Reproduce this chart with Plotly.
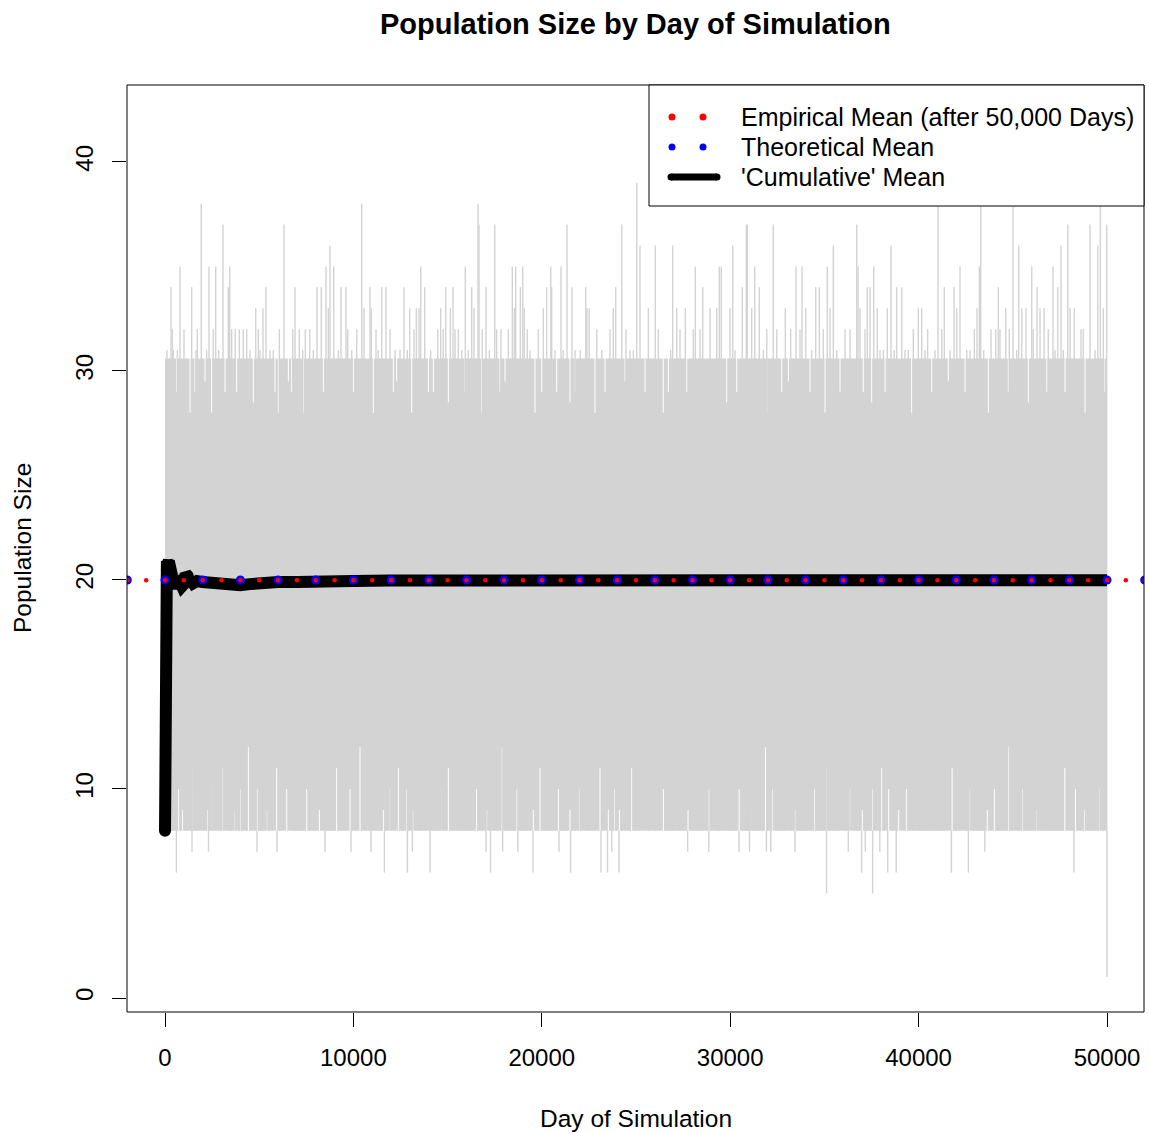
import numpy as np
import plotly.graph_objects as go

# ---------------- data ----------------
days_total = 50000
core_low = 8        # dense grey band lower edge
core_high = 30.6    # dense grey band upper edge (estimated)

high_spike_days = [318, 796, 1417, 1927, 2335, 2691, 3079, 3360, 3434, 4814, 5202, 5361, 6316, 6900,
                   8068, 8297, 8546, 8758, 8955, 9342, 9607, 10441, 10881, 11502, 11730, 12686, 12989,
                   13573, 13785, 14634, 14900, 15287, 15940, 16280, 16614, 16667, 17039, 17501, 18435,
                   18616, 18860, 18987, 20080, 20260, 20473, 20526, 21020, 21338, 21604, 22331, 22915,
                   23924, 24242, 25038, 25213, 26025, 26949, 28148, 28541, 29422, 29528, 30134, 30643,
                   30856, 30909, 31301, 31545, 32288, 33494, 33812, 34539, 34731, 35155, 35474, 36716,
                   36785, 37278, 37421, 37617, 37808, 38339, 38535, 38838, 39103, 39985, 40165, 41031,
                   41365, 41881, 42199, 43224, 43298, 44232, 45012, 45315, 46005, 46287, 47136, 47386,
                   47561, 47917, 49099, 49508, 49646, 49986]
high_spike_vals = [34, 35, 34, 38, 35, 35, 37, 34, 35, 33, 33, 34, 37, 34,
                   34, 34, 35, 36, 35, 34, 34, 38, 34, 34, 34, 34, 33,
                   35, 34, 33, 34, 34, 35, 34, 38, 37, 34, 37, 35,
                   35, 34, 35, 33, 34, 35, 34, 35, 37, 34, 34, 32,
                   34, 37, 39, 36, 36, 36, 35, 34, 35, 35, 36, 34,
                   37, 37, 35, 34, 37, 35, 35, 34, 34, 35, 36, 37,
                   35, 34, 34, 35, 33, 33, 36, 34, 34, 33, 33, 38,
                   34, 34, 35, 35, 38, 34, 38, 36, 35, 34, 35, 34,
                   36, 37, 37, 36, 38, 37]

mid_spike_days = [100, 390, 440, 655, 1010, 1645, 1715, 2210, 2565, 2850, 3540, 3730, 3945, 4155,
                  4335, 4510, 4955, 5040, 5575, 5750, 6070, 6780, 7130, 7310, 7450, 7680, 7870,
                  8670, 9200, 9700, 9910, 10175, 10565, 10950, 11200, 11320, 11945, 12210,
                  12475, 12860, 13215, 13340, 13480, 14100, 14475, 14770, 15145, 15395, 15570,
                  15750, 16100, 16400, 16840, 17215, 17605, 17830, 18225, 18540, 19070, 19230,
                  19375, 19815, 20700, 21140, 21765, 22045, 22400, 22520, 23180, 23620, 23795,
                  24470, 24680, 24860, 25655, 26185, 26840, 27160, 27335, 27620, 28040, 28400,
                  28930, 29285, 29990, 30255, 31140, 31760, 31940, 32470, 32925, 33210, 33705,
                  34010, 34325, 34945, 35300, 35655, 36095, 36360, 36890, 37155, 37950, 38130,
                  38710, 39280, 39455, 39720, 40340, 40480, 40870, 41230, 41670, 42025, 42555,
                  42730, 42960, 43100, 43455, 43845, 44095, 44320, 44625, 44815, 45210, 45475,
                  45700, 46090, 46445, 46660, 46885, 47240, 47680, 48040, 48265, 48620, 48745,
                  49365, 49805]
mid_spike_vals = [31, 32, 31, 31, 32, 31, 32, 31, 32, 31, 32, 32, 32, 32,
                  32, 31, 32, 31, 31, 31, 32, 32, 32, 31, 32, 32, 31,
                  33, 31, 32, 31, 32, 33, 33, 32, 31, 32, 31,
                  31, 31, 32, 33, 33, 31, 32, 32, 33, 32, 32,
                  31, 31, 33, 32, 31, 32, 32, 32, 33, 33, 32,
                  31, 32, 31, 31, 31, 31, 33, 33, 31, 32, 33,
                  32, 31, 31, 33, 32, 31, 33, 32, 33, 32, 32,
                  33, 33, 33, 31, 33, 31, 32, 32, 33, 32, 32,
                  33, 31, 32, 33, 31, 32, 32, 33, 32, 31, 31,
                  31, 31, 31, 32, 31, 32, 31, 32, 31, 33, 31,
                  31, 32, 33, 31, 32, 32, 32, 33, 32, 31, 33,
                  33, 32, 33, 33, 32, 31, 31, 33, 33, 32, 32,
                  31, 33]

low_spike_days = [605, 1433, 2309, 4883, 5945, 8493, 9873, 10935, 11646, 12867, 13127, 14066, 17039,
                  17278, 17920, 18727, 19534, 20914, 21530, 23143, 23488, 23716, 24099, 27740, 28865,
                  30468, 31025, 31922, 32150, 33440, 35112, 36269, 36975, 37172, 37560, 37942, 38361,
                  38812, 41742, 42644, 43515, 48245, 50000]
low_spike_vals = [6, 7, 7, 7, 7, 7, 7, 7, 6, 6, 7, 6, 7,
                  6, 7, 7, 6, 7, 6, 6, 6, 7, 6, 7, 7,
                  7, 7, 7, 7, 7, 5, 7, 6, 7, 5, 7, 6,
                  6, 6, 6, 7, 6, 1]

# columns whose lowest value stays above 8 (white slits at the bottom of the band)
low_gap_days = [708, 938, 1415, 1716, 2247, 2566, 3061, 3716, 3981, 4423, 4901, 5397, 5928, 6459,
                7521, 8193, 9112, 9820, 10351, 11589, 11943, 12386, 12829, 13183, 14634, 15041,
                16543, 17074, 17871, 18668, 19552, 19905, 20878, 21497, 22028, 23090, 23532,
                23838, 24120, 24773, 26455, 27761, 28886, 29540, 30474, 31126, 31874, 32247,
                33462, 34492, 35145, 36360, 37013, 37576, 38043, 38413, 38940, 39348, 41779,
                42713, 43647, 44025, 44772, 45517, 46264, 47761, 48323, 48791, 49630]
low_gap_vals = [10, 9, 11, 10, 9, 10, 11, 9, 10, 12, 10, 9, 11, 10,
                10, 9, 11, 10, 12, 9, 10, 11, 10, 9, 10, 11,
                10, 9, 12, 10, 9, 11, 10, 9, 10, 11, 9,
                10, 9, 11, 10, 9, 10, 11, 10, 9, 12, 10,
                9, 10, 11, 10, 9, 10, 11, 10, 9, 10, 11,
                10, 9, 10, 12, 10, 9, 11, 10, 9, 10]

# columns whose highest value stays below the band top (white slits at the top of the band)
top_gap_days = [620, 1327, 1592, 2123, 2477, 3185, 3804, 4689, 5839, 6016, 6548, 6725, 7342, 8404,
                9996, 11058, 12120, 12297, 13094, 13978, 14244, 15041, 15924, 16809, 17782, 18047,
                19640, 19995, 20791, 21497, 21763, 22824, 23355, 24417, 25478, 26450, 26716,
                27691, 29815, 30346, 31940, 32735, 33090, 34236, 35033, 35829, 37066, 37510,
                38218, 39633, 40696, 41578, 42464, 43700, 44762, 45824, 46802, 47772, 48834, 49843]
top_gap_vals = [29, 28, 29, 29.5, 28, 29, 29, 28.5, 29, 28, 29.5, 29, 28, 29,
                29, 28, 29, 29.5, 28, 29, 29, 28.5, 29, 28, 29, 29.5,
                28, 29, 29, 28.5, 29, 28, 29, 29.5, 29, 28, 29,
                29, 28.5, 29, 28, 29, 29.5, 29, 28, 29, 29, 28.5,
                29, 28, 29, 29.5, 29, 28, 29, 28.5, 29, 29, 28, 29]

cum_days = [1, 2, 3, 5, 8, 12, 20, 35, 60, 100, 150, 200, 250, 300, 350, 400, 450, 500, 550, 600,
            650, 700, 750, 800, 900, 1000, 1100, 1200, 1300, 1400, 1500, 1700, 2000, 2500, 3000,
            3500, 4000, 4500, 5000, 6000, 7000, 8000, 10000, 12000, 15000, 20000, 25000, 30000,
            35000, 40000, 45000, 50000]
cum_vals = [8.0, 11.5, 13.0, 15.0, 16.5, 18.0, 19.5, 20.5, 20.9, 20.9, 20.8, 20.9, 20.6, 20.7,
            20.3, 20.5, 19.9, 20.2, 19.7, 20.0, 19.6, 19.9, 19.6, 19.9, 19.7, 19.8, 20.3, 20.2,
            19.8, 20.0, 19.85, 19.95, 19.9, 19.85, 19.8, 19.75, 19.75, 19.8, 19.85, 19.9, 19.9,
            19.95, 19.95, 19.97, 19.98, 19.98, 19.99, 19.99, 19.99, 20.0, 20.0, 19.99]

empirical_mean = 19.99
theoretical_mean = 20.0

x_ticks = [0, 10000, 20000, 30000, 40000, 50000]
y_ticks = [0, 10, 20, 30, 40]
legend_labels = ["Empirical Mean (after 50,000 Days)", "Theoretical Mean", "'Cumulative' Mean"]

# ---------------- figure ----------------
FONT = "Liberation Sans, Arial, Helvetica, sans-serif"
GREY = "#D3D3D3"
W, H = 1149, 1133
L, R, T, B = 127, 5, 85, 121
x_range = [-2017, 51964]
y_range = [-0.67, 43.68]

def vsegs(days, vals, base):
    xs, ys = [], []
    for d, v in zip(days, vals):
        xs += [d, d, None]
        ys += [base, v, None]
    return xs, ys

fig = go.Figure()

# dense core of the daily series
fig.add_trace(go.Scatter(x=[1, days_total, days_total, 1, 1],
                         y=[core_low, core_low, core_high, core_high, core_low],
                         fill="toself", fillcolor=GREY, mode="lines",
                         line=dict(width=0, color=GREY), hoverinfo="skip", showlegend=False))
# white slits inside the band
for days, vals, base in [(low_gap_days, low_gap_vals, core_low - 0.05),
                         (top_gap_days, top_gap_vals, core_high + 0.05)]:
    xs, ys = vsegs(days, vals, base)
    fig.add_trace(go.Scatter(x=xs, y=ys, mode="lines", line=dict(color="white", width=1),
                             hoverinfo="skip", showlegend=False))
# individual excursions
for days, vals in [(mid_spike_days, mid_spike_vals), (high_spike_days, high_spike_vals),
                   (low_spike_days, low_spike_vals)]:
    xs, ys = vsegs(days, vals, core_low)
    fig.add_trace(go.Scatter(x=xs, y=ys, mode="lines", line=dict(color=GREY, width=1.4),
                             hoverinfo="skip", showlegend=False))

# cumulative mean
fig.add_trace(go.Scatter(x=cum_days, y=cum_vals, mode="lines",
                         line=dict(color="black", width=12), showlegend=False))
fig.add_trace(go.Scatter(x=[cum_days[0]], y=[cum_vals[0]], mode="markers",
                         marker=dict(color="black", size=12), showlegend=False))

# dotted horizontal reference lines (rendered as dots)
blue_x = np.arange(-2000, 52001, 2000)
red_x = np.arange(-2000, 52001, 1000)
fig.add_trace(go.Scatter(x=blue_x, y=[theoretical_mean] * len(blue_x), mode="markers",
                         marker=dict(color="blue", size=9), showlegend=False))
fig.add_trace(go.Scatter(x=red_x, y=[empirical_mean] * len(red_x), mode="markers",
                         marker=dict(color="red", size=4.5), showlegend=False))

pw, ph = W - L - R, H - T - B
def px(xp):
    return (xp - L) / pw
def py(yp):
    return (H - B - yp) / ph

shapes = [dict(type="rect", xref="paper", yref="paper", x0=0, x1=1, y0=0, y1=1,
               line=dict(color="black", width=1), layer="above")]
# legend box
shapes.append(dict(type="rect", xref="paper", yref="paper", x0=px(649), x1=px(1144),
                   y0=py(206), y1=py(85), fillcolor="white", line=dict(color="black", width=1),
                   layer="above"))
rows = [117, 147, 177]
for cx in (672, 703):
    for col, ry in (("red", rows[0]), ("blue", rows[1])):
        r = 3.5
        shapes.append(dict(type="circle", xref="paper", yref="paper",
                           x0=px(cx - r), x1=px(cx + r), y0=py(ry + r), y1=py(ry - r),
                           fillcolor=col, line=dict(width=0), layer="above"))
shapes.append(dict(type="line", xref="paper", yref="paper", x0=px(671), x1=px(717),
                   y0=py(rows[2]), y1=py(rows[2]), line=dict(color="black", width=7), layer="above"))
for cx in (671, 717):
    r = 3.5
    shapes.append(dict(type="circle", xref="paper", yref="paper",
                       x0=px(cx - r), x1=px(cx + r), y0=py(rows[2] + r), y1=py(rows[2] - r),
                       fillcolor="black", line=dict(width=0), layer="above"))

annotations = []
for lab, ry in zip(legend_labels, rows):
    annotations.append(dict(text=lab, xref="paper", yref="paper", x=px(739), y=py(ry),
                            xanchor="left", yanchor="middle", showarrow=False,
                            font=dict(family=FONT, size=25, color="black")))
annotations.append(dict(text="<b>Population Size by Day of Simulation</b>", xref="paper", yref="paper",
                        x=0.5, y=py(24), xanchor="center", yanchor="middle", showarrow=False,
                        font=dict(family=FONT, size=29, color="black")))
annotations.append(dict(text="Day of Simulation", xref="paper", yref="paper",
                        x=0.5, y=py(1118), xanchor="center", yanchor="middle", showarrow=False,
                        font=dict(family=FONT, size=24.5, color="black")))
annotations.append(dict(text="Population Size", xref="paper", yref="paper",
                        x=px(22), y=py(548), xanchor="center", yanchor="middle", showarrow=False,
                        textangle=-90, font=dict(family=FONT, size=24.5, color="black")))

fig.update_layout(
    width=W, height=H, margin=dict(l=L, r=R, t=T, b=B),
    paper_bgcolor="white", plot_bgcolor="white", showlegend=False,
    font=dict(family=FONT, size=24, color="black"),
    shapes=shapes, annotations=annotations,
    xaxis=dict(range=x_range, tickvals=x_ticks, ticktext=[str(v) for v in x_ticks],
               ticks="outside", ticklen=14, tickwidth=1, tickcolor="black",
               showgrid=False, zeroline=False, showline=False, ticklabelstandoff=10,
               tickfont=dict(family=FONT, size=24, color="black")),
    yaxis=dict(range=y_range, tickvals=y_ticks, ticktext=[str(v) for v in y_ticks],
               ticks="outside", ticklen=14, tickwidth=1, tickcolor="black", tickangle=-90,
               showgrid=False, zeroline=False, showline=False, ticklabelstandoff=9,
               tickfont=dict(family=FONT, size=24, color="black")),
)

fig.write_html("out.html", config={"displayModeBar": False},
               post_script="document.body.style.margin='0px';document.body.style.overflow='hidden';")
